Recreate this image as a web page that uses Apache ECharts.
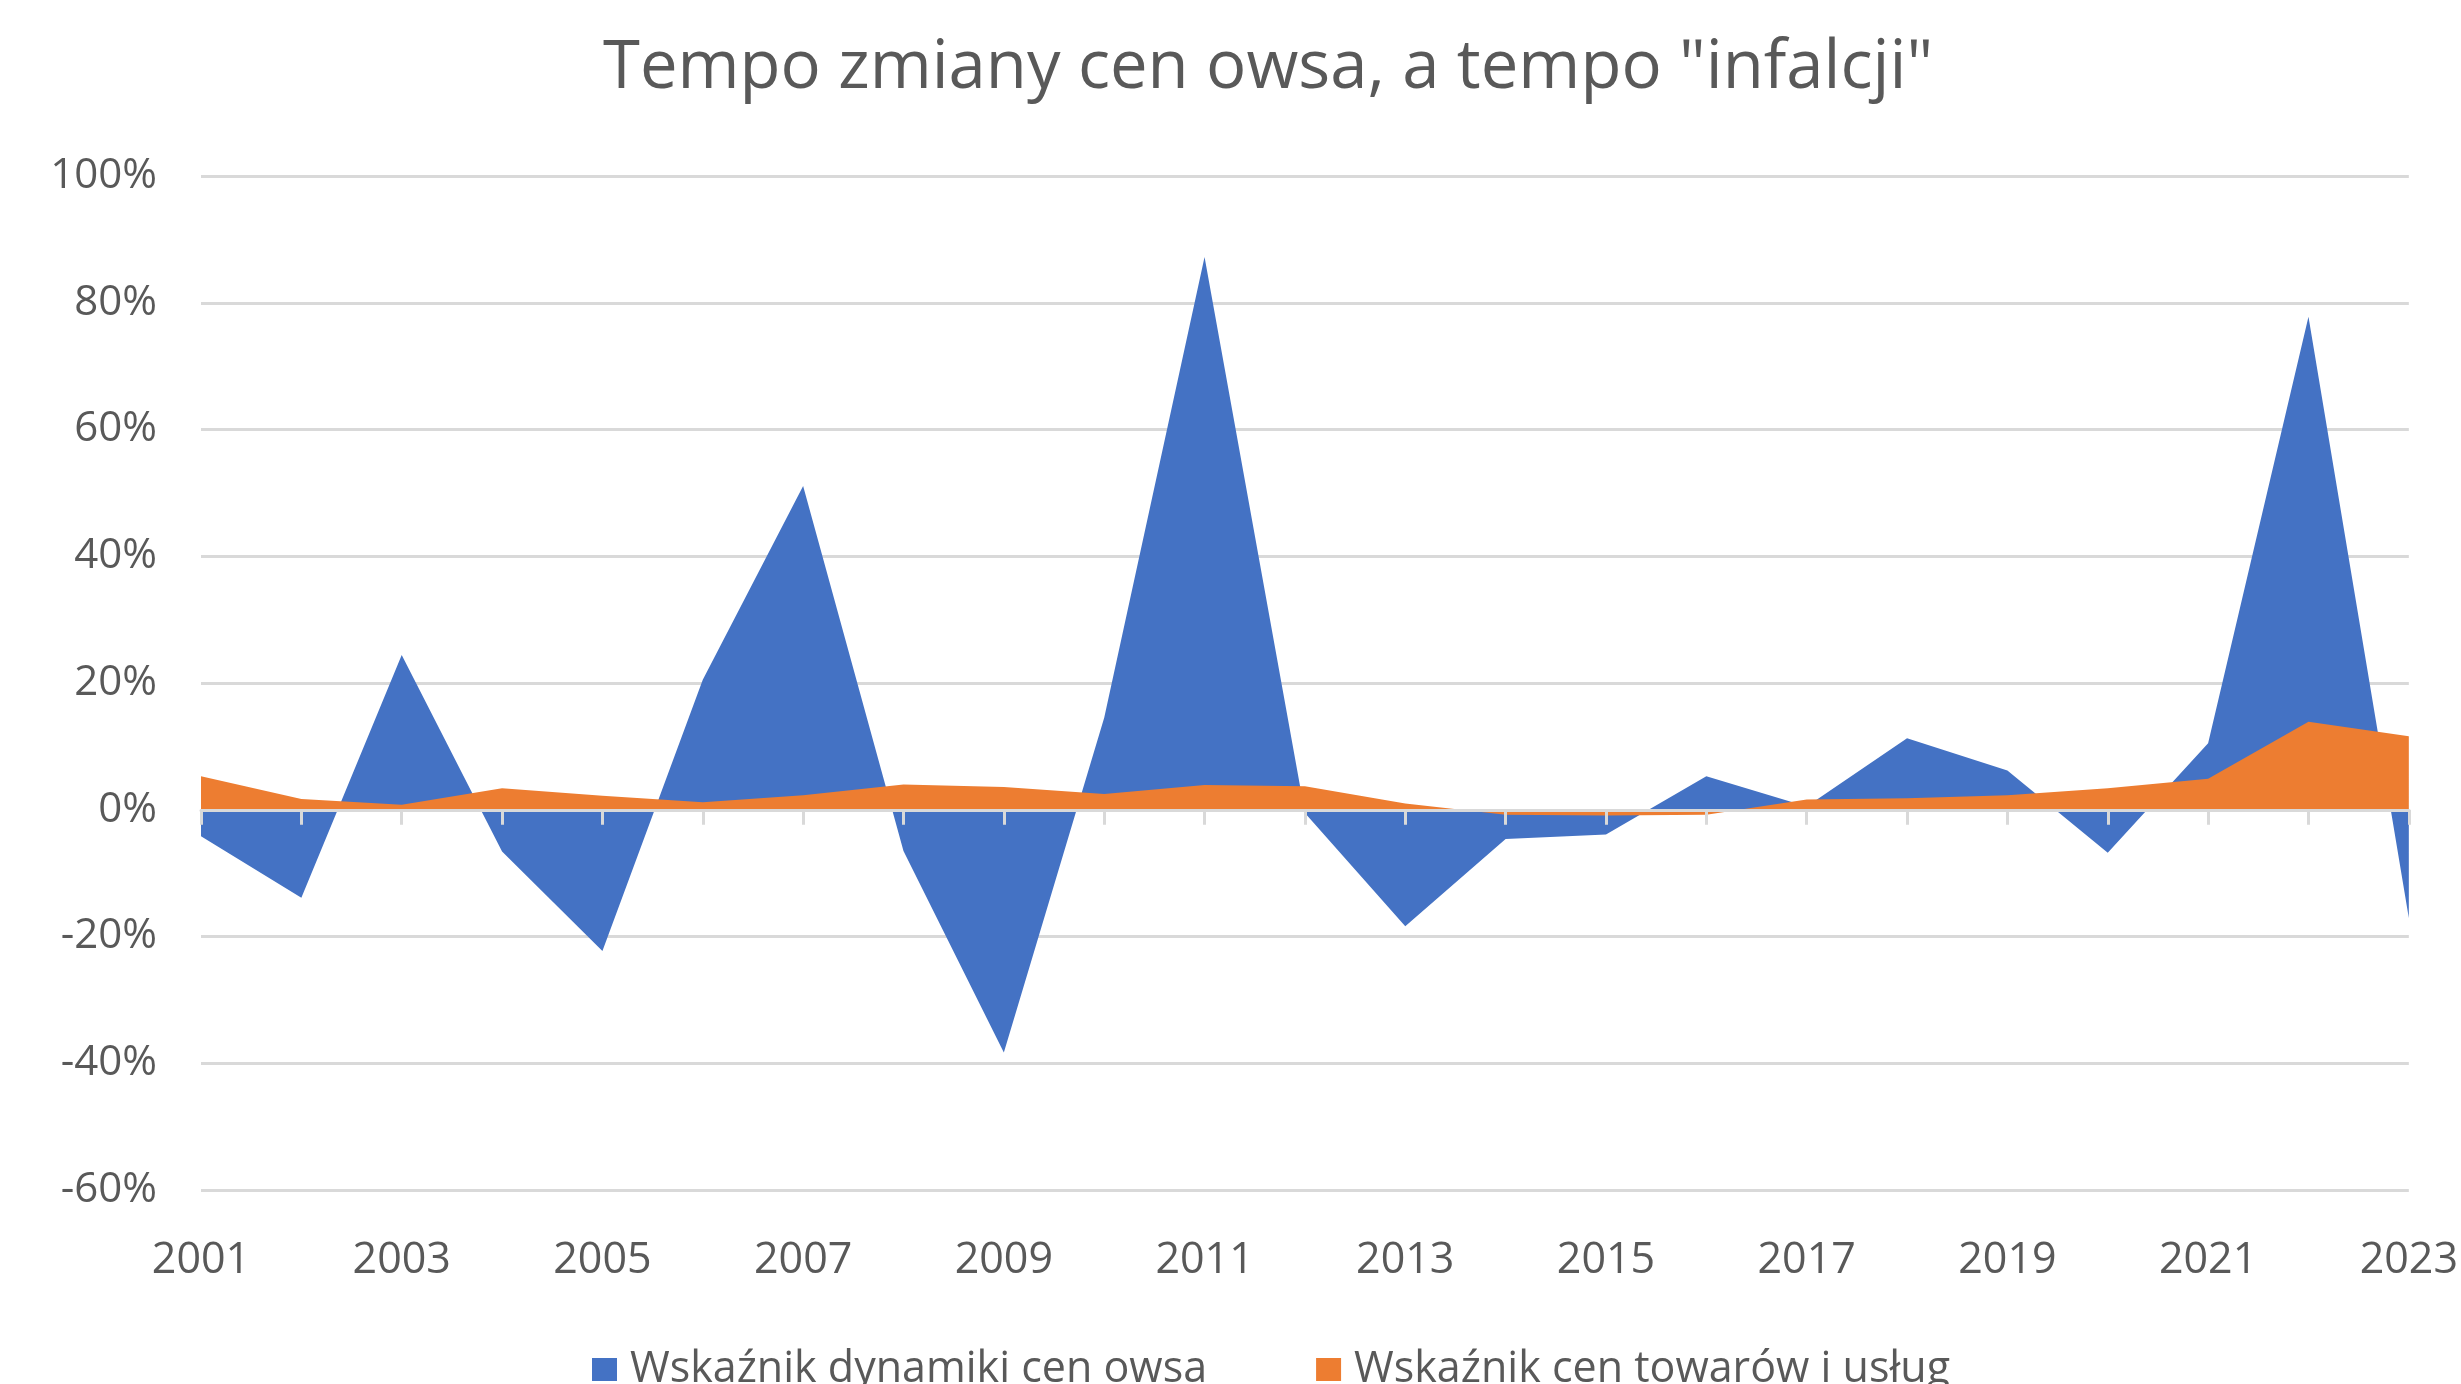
<!DOCTYPE html>
<html>
<head>
<meta charset="utf-8">
<title>Tempo zmiany cen owsa</title>
<script src="https://cdn.jsdelivr.net/npm/echarts@6/dist/echarts.min.js"></script>
<style>
  html, body { margin: 0; padding: 0; background: #fff; }
  #chart { width: 2461px; height: 1384px; }
</style>
</head>
<body>
<div id="chart"></div>
<script>
// lata
const years = ['2001', '2002', '2003', '2004', '2005', '2006', '2007', '2008', '2009', '2010', '2011', '2012',
  '2013', '2014', '2015', '2016', '2017', '2018', '2019', '2020', '2021', '2022', '2023']

// zmiana cen owsa r/r, %
const oatPrices = [-4.2, -13.9, 24.4, -6.6, -22.3, 20.5, 51.1, -6.5, -38.3, 14.5, 87.2, -0.5,
  -18.4, -4.6, -3.9, 5.3, 0.5, 11.3, 6.2, -6.8, 10.5, 77.8, -17.1]

// inflacja CPI r/r, %
const cpi = [5.3, 1.7, 0.8, 3.4, 2.2, 1.2, 2.3, 4.0, 3.6, 2.5, 3.9, 3.7,
  1.0, -0.8, -0.9, -0.8, 1.6, 1.8, 2.3, 3.4, 4.9, 13.9, 11.6]

const seriesNames = ['Wskaźnik dynamiki cen owsa', 'Wskaźnik cen towarów i usług']
const colors = ['#4472C4', '#ED7D31']

const textColor = '#595959'
const fontFamily = '"Open Sans", "Liberation Sans", sans-serif'

const chart = echarts.init(document.getElementById('chart'))

const option = {
  animation: false,
  backgroundColor: '#ffffff',
  textStyle: { fontFamily: fontFamily },
  title: {
    text: 'Tempo zmiany cen owsa, a tempo "infalcji"',
    left: 598,
    top: 30,
    textStyle: {
      fontFamily: fontFamily,
      fontSize: 67,
      fontWeight: 'normal',
      color: textColor
    }
  },
  legend: {
    data: seriesNames,
    left: 587,
    top: 1343,
    itemWidth: 25,
    itemHeight: 23,
    itemGap: 109,
    icon: 'rect',
    textStyle: {
      fontFamily: fontFamily,
      fontSize: 43,
      color: textColor,
      padding: [0, 0, 0, 8]
    }
  },
  grid: {
    left: 201,
    right: 51,
    top: 176,
    bottom: 194,
    containLabel: false
  },
  xAxis: [
    {
      // oś na poziomie zera z kreskami
      type: 'category',
      data: years,
      boundaryGap: false,
      axisLine: { onZero: true, lineStyle: { color: '#D9D9D9', width: 3 } },
      axisTick: { show: true, interval: 0, length: 15, lineStyle: { color: '#D9D9D9', width: 3 } },
      axisLabel: { show: false },
      splitLine: { show: false },
      z: 5
    },
    {
      // etykiety lat na dole
      type: 'category',
      data: years,
      position: 'bottom',
      boundaryGap: false,
      axisLine: { show: false, onZero: false },
      axisTick: { show: false },
      axisLabel: {
        interval: 1,
        margin: 49,
        fontSize: 43,
        color: textColor,
        fontFamily: fontFamily
      },
      splitLine: { show: false }
    }
  ],
  yAxis: {
    type: 'value',
    min: -60,
    max: 100,
    interval: 20,
    axisLine: { show: false },
    axisTick: { show: false },
    axisLabel: {
      formatter: '{value}%',
      margin: 44,
      fontSize: 42,
      color: textColor,
      fontFamily: fontFamily
    },
    splitLine: { lineStyle: { color: '#D9D9D9', width: 3 } }
  },
  series: [
    {
      name: seriesNames[0],
      type: 'line',
      xAxisIndex: 0,
      data: oatPrices,
      symbol: 'none',
      lineStyle: { width: 0 },
      itemStyle: { color: colors[0] },
      areaStyle: { color: colors[0], opacity: 1 }
    },
    {
      name: seriesNames[1],
      type: 'line',
      xAxisIndex: 0,
      data: cpi,
      symbol: 'none',
      lineStyle: { width: 0 },
      itemStyle: { color: colors[1] },
      areaStyle: { color: colors[1], opacity: 1 }
    }
  ]
}

chart.setOption(option)
</script>
</body>
</html>
